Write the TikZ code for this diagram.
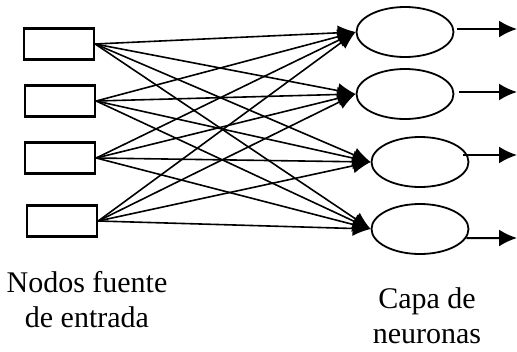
\documentclass[tikz,border=0pt]{standalone}
\usepackage{fontspec}
\setmainfont{Liberation Serif}
\usepackage{tikz}
\usetikzlibrary{shapes, arrows.meta, positioning}

\begin{document}
\begin{tikzpicture}[
  x=1pt, y=-1pt,
  inbox/.style={draw, line width=2.4pt, minimum width=70pt, minimum height=31pt, inner sep=0pt},
  neuron/.style={draw, ellipse, line width=1.8pt, minimum width=97pt, minimum height=50pt, inner sep=0pt},
  link/.style={line width=1.6pt, -{Latex[length=18pt, width=15pt]}},
  outlink/.style={line width=2pt, -{Latex[length=18pt, width=17pt]}},
  caption/.style={align=center, font=\fontsize{30}{35}\selectfont}
]
  \useasboundingbox (0,0) rectangle (517,351);

  % entradas
  \node[inbox] (in1) at (59, 44) {};
  \node[inbox] (in2) at (60,101) {};
  \node[inbox] (in3) at (60,158) {};
  \node[inbox] (in4) at (62,221) {};

  % neuronas
  \node[neuron] (n1) at (405, 32) {};
  \node[neuron] (n2) at (405, 94) {};
  \node[neuron] (n3) at (420,162) {};
  \node[neuron] (n4) at (420,229) {};

  % salidas
  \coordinate (o1) at (517, 29);
  \coordinate (o2) at (517, 92);
  \coordinate (o3) at (517,155);
  \coordinate (o4) at (517,238);

  \foreach \i in {1,...,4}
    \foreach \j in {1,...,4}
      \draw[link] (in\i.east) -- (n\j.west);

  \draw[outlink] (n1.east) ++(3,-3) -- (o1);
  \draw[outlink] (n2.east) ++(5,-2) -- (o2);
  \draw[outlink] (n3.east) ++(-6,-7) -- (o3);
  \draw[outlink] (n4.-11) -- (o4);

  \node[caption] (src) at (87,300) {Nodos fuente\\de entrada};
  \node[caption] (lay) at (427,316) {Capa de\\neuronas};
\end{tikzpicture}
\end{document}
